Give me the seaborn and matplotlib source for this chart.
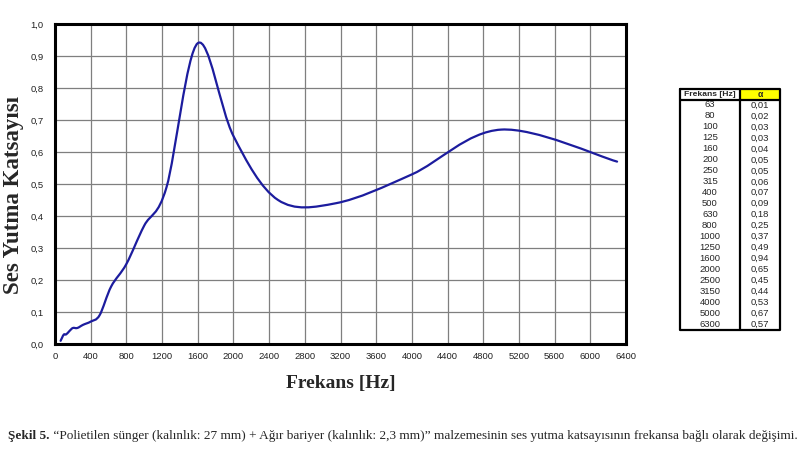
import numpy as np
import pandas as pd
import matplotlib
matplotlib.use("Agg")
import matplotlib.pyplot as plt
import seaborn as sns
from matplotlib.path import Path
from matplotlib.patches import PathPatch

# ---- data ----
freq = [63, 80, 100, 125, 160, 200, 250, 315, 400, 500, 630, 800, 1000, 1250,
        1600, 2000, 2500, 3150, 4000, 5000, 6300]
alpha = [0.01, 0.02, 0.03, 0.03, 0.04, 0.05, 0.05, 0.06, 0.07, 0.09, 0.18, 0.25,
         0.37, 0.49, 0.94, 0.65, 0.45, 0.44, 0.53, 0.67, 0.57]
x_ticks = list(range(0, 6401, 400))
y_ticks = [i / 10 for i in range(0, 11)]

xlabel = "Frekans [Hz]"
ylabel = "Ses Yutma Katsayısı"
table_head = ["Frekans [Hz]", "α"]
caption_bold = "Şekil 5."
caption_rest = (" “Polietilen sünger (kalınlık: 27 mm) + Ağır bariyer (kalınlık: 2,3 mm)” "
                "malzemesinin ses yutma katsayısının frekansa bağlı olarak değişimi.")

df = pd.DataFrame({"f": freq, "a": alpha})

sns.set_style("white")
plt.rcParams["font.family"] = ["Liberation Sans", "DejaVu Sans"]

W, H = 810, 457
fig = plt.figure(figsize=(W / 100, H / 100), dpi=100)
ax = fig.add_axes([55 / W, 1 - 344 / H, (626 - 55) / W, (344 - 24) / H])

line_color = "#1c1c9e"
sns.lineplot(data=df, x="f", y="a", ax=ax, color=line_color, lw=1.6)

# replace the polyline by a smoothed (Excel-style) Bezier curve through the same points
ln = ax.lines[0]
xs, ys = ln.get_xdata(), ln.get_ydata()
ln.remove()
P = np.column_stack([xs, ys])
verts = [tuple(P[0])]
codes = [Path.MOVETO]
n = len(P)
for i in range(n - 1):
    p0 = P[i - 1] if i > 0 else P[i]
    p1 = P[i]
    p2 = P[i + 1]
    p3 = P[i + 2] if i + 2 < n else P[i + 1]
    c1 = p1 + (p2 - p0) / 6.0
    c2 = p2 - (p3 - p1) / 6.0
    verts += [tuple(c1), tuple(c2), tuple(p2)]
    codes += [Path.CURVE4] * 3
ax.add_patch(PathPatch(Path(verts, codes), fill=False, edgecolor=line_color, lw=1.6,
                       capstyle="round", joinstyle="round", zorder=3))

ax.set_xlim(0, 6400)
ax.set_ylim(0, 1.0)
ax.set_xticks(x_ticks)
ax.set_yticks(y_ticks)
ax.set_yticklabels([f"{v:.1f}".replace(".", ",") for v in y_ticks])
ax.tick_params(axis="both", labelsize=6.8, colors="#222222", length=3, width=0.8,
               direction="out", pad=3)
ax.tick_params(axis="y", direction="in", pad=8)
ax.grid(True, color="#7f7f7f", lw=0.9)
ax.set_axisbelow(True)
for s in ax.spines.values():
    s.set_visible(True)
    s.set_color("black")
    s.set_linewidth(2.2)

ax.set_xlabel(xlabel, family=["Liberation Serif"], fontweight="bold", fontsize=14, labelpad=10)
ax.set_ylabel(ylabel, family=["Liberation Serif"], fontweight="bold", fontsize=16.5)
ax.yaxis.set_label_coords((24 - 55) / (626 - 55), (344 - 195) / (344 - 24))

# ---- table ----
tx0, tx1, txm = 680, 780, 740
ty0, ty1 = 89, 330
tax = fig.add_axes([tx0 / W, 1 - ty1 / H, (tx1 - tx0) / W, (ty1 - ty0) / H])
tax.set_xlim(0, tx1 - tx0)
tax.set_ylim(ty1 - ty0, 0)
tax.axis("off")
hh = 10.5
tax.add_patch(plt.Rectangle((txm - tx0, 0), tx1 - txm, hh, facecolor="#ffff00",
                            edgecolor="none", zorder=1))
tax.plot([0, tx1 - tx0, tx1 - tx0, 0, 0], [0, 0, ty1 - ty0, ty1 - ty0, 0],
         color="black", lw=1.6, zorder=3, clip_on=False)
tax.plot([txm - tx0] * 2, [0, ty1 - ty0], color="black", lw=1.6, zorder=3)
tax.plot([0, tx1 - tx0], [hh, hh], color="black", lw=1.6, zorder=3)
cx1 = (txm - tx0) / 2
cx2 = (txm - tx0) + (tx1 - txm) / 2
tax.text(cx1, hh / 2 + 0.3, table_head[0], ha="center", va="center", fontsize=6.1,
         fontweight="bold", zorder=4)
tax.text(cx2, hh / 2 + 0.3, table_head[1], ha="center", va="center", fontsize=6.2,
         fontweight="bold", zorder=4)
rh2 = (ty1 - ty0 - hh) / len(freq)
for i, (f, a) in enumerate(zip(freq, alpha)):
    yc = hh + rh2 * (i + 0.5)
    tax.text(cx1, yc, str(f), ha="center", va="center", fontsize=6.8)
    tax.text(cx2, yc, f"{a:.2f}".replace(".", ","), ha="center", va="center", fontsize=6.8)

# ---- caption ----
cap = fig.text(8 / W, 1 - 436 / H, caption_bold, family=["Liberation Serif"],
               fontweight="bold", fontsize=9.5, ha="left", va="center")
fig.canvas.draw()
bb = cap.get_window_extent()
fig.text(bb.x1 / W, 1 - 436 / H, caption_rest, family=["Liberation Serif"],
         fontsize=9.5, ha="left", va="center")

fig.savefig("out.png", dpi=100)
